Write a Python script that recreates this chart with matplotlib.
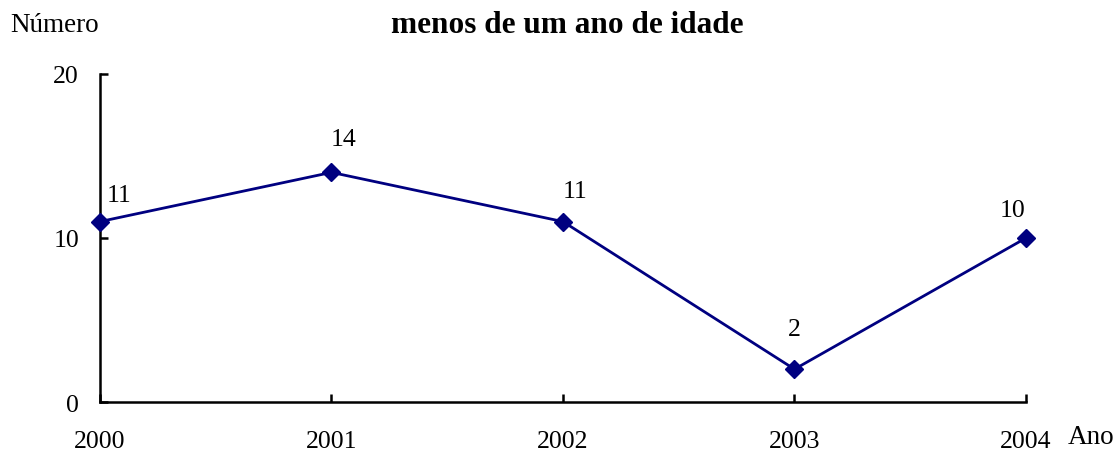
import matplotlib.pyplot as plt

# Data
years = [2000, 2001, 2002, 2003, 2004]
counts = [11, 14, 11, 2, 10]
# label offsets (points) relative to each marker
label_offsets = [(14, 19), (9, 24), (9, 22), (0, 29), (-10, 20)]

plt.rcParams["font.family"] = ["Liberation Serif", "DejaVu Serif"]

fig = plt.figure(figsize=(11.18, 4.52), dpi=100)
ax = fig.add_axes([0.0894, 0.1084, 0.8283, 0.7257])

ax.plot(years, counts, color="#000080", linewidth=2.0, marker="D",
        markersize=9.5, clip_on=False, zorder=3)

for x, y, (dx, dy) in zip(years, counts, label_offsets):
    ax.annotate(str(y), (x, y), xytext=(dx, dy), textcoords="offset points",
                ha="center", va="center", fontsize=18.5)

ax.set_xlim(2000, 2004)
ax.set_ylim(0, 20)
ax.set_xticks(years)
ax.set_yticks([0, 10, 20])
ax.tick_params(direction="in", length=6, width=1.8, labelsize=18.5)
ax.tick_params(axis="x", pad=20)
ax.tick_params(axis="y", pad=15)

for side in ["top", "right"]:
    ax.spines[side].set_visible(False)
for side in ["left", "bottom"]:
    ax.spines[side].set_linewidth(1.8)

fig.text(0.009, 0.944, "Número", fontsize=19.5, ha="left", va="center")
fig.text(0.507, 0.944, "menos de um ano de idade", fontsize=22.5,
         fontweight="bold", ha="center", va="center")
fig.text(0.955, 0.033, "Ano", fontsize=19.5, ha="left", va="center")

fig.savefig("out.png", dpi=100)
